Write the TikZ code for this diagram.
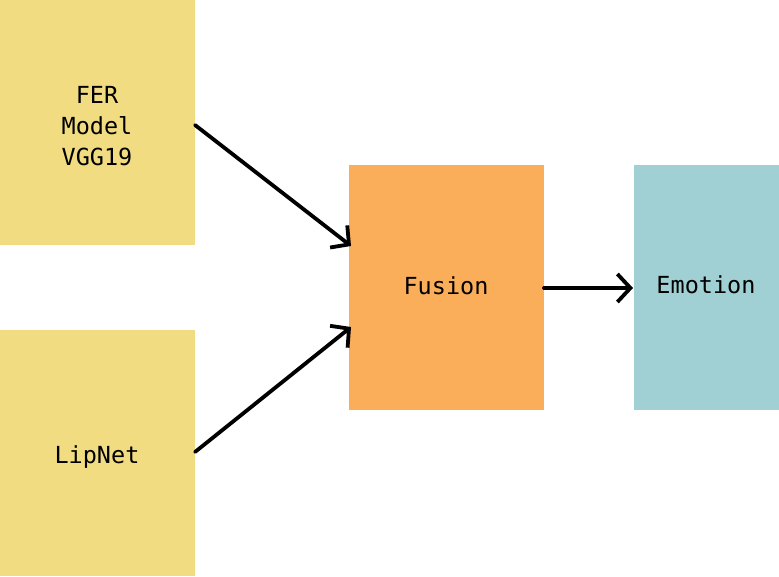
\documentclass[tikz,border=0pt]{standalone}
\usepackage{fontspec}
\setmonofont{DejaVu Sans Mono}
\usetikzlibrary{arrows.meta}
\definecolor{boxyellow}{HTML}{F2DC82}
\definecolor{boxorange}{HTML}{FBAE5A}
\definecolor{boxteal}{HTML}{A0CFD4}
\begin{document}
\begin{tikzpicture}[x=1pt,y=-1pt,
  block/.style={draw=none,minimum width=195pt,minimum height=245pt,inner sep=0pt,anchor=north west},
  lbl/.style={font=\ttfamily\fontsize{23.5pt}{31pt}\selectfont,align=center,inner sep=0pt},
  conn/.style={line width=3.8pt,line cap=round,line join=round,
    -{Straight Barb[length=13pt,width=28pt,line width=3.8pt]}}]
\useasboundingbox (0,0) rectangle (779,576);
\node[block,fill=boxyellow] (fer) at (0,0) {};
\node[block,fill=boxyellow,minimum height=246pt] (lip) at (0,330) {};
\node[block,fill=boxorange] (fus) at (349,165) {};
\node[block,fill=boxteal,minimum width=145pt] (emo) at (634,165) {};
\node[lbl] (ferl) at (97,126) {FER\\Model\\VGG19};
\node[lbl] (lipl) at (97,457) {LipNet};
\node[lbl] (fusl) at (446,286) {Fusion};
\node[lbl] (emol) at (706,285) {Emotion};
\coordinate (a1) at (195,125);
\coordinate (a2) at (195,452);
\coordinate (b1) at (351,246);
\coordinate (b2) at (351,327);
\coordinate (c1) at (544,288);
\coordinate (c2) at (633,288);
\draw[conn] (a1) -- (b1);
\draw[conn] (a2) -- (b2);
\draw[conn] (c1) -- (c2);
\end{tikzpicture}
\end{document}
